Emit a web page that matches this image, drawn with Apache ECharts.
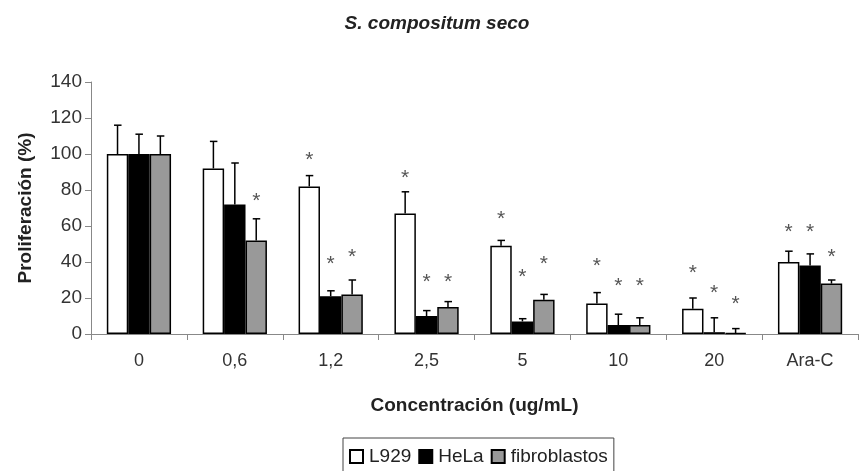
<!DOCTYPE html>
<html>
<head>
<meta charset="utf-8">
<script src="https://cdn.jsdelivr.net/npm/echarts@6/dist/echarts.min.js"></script>
<style>html,body{margin:0;padding:0;background:#fff}#c{width:859px;height:471px}</style>
</head>
<body>
<div id="c"></div>
<script>
var categories = ['0', '0,6', '1,2', '2,5', '5', '10', '20', 'Ara-C'];
var seriesNames = ['L929', 'HeLa', 'fibroblastos'];
var L929 = [100, 92, 82, 67, 49, 17, 14, 40];
var HeLa = [100, 72, 21, 10, 7, 5, 1, 38];
var fibro = [100, 52, 22, 15, 19, 5, 0.5, 28];
var L929Err = [16, 15, 6, 12, 3, 6, 6, 6];
var HeLaErr = [11, 23, 3, 3, 1.5, 6, 8, 6.5];
var fibroErr = [10, 12, 8, 3, 3, 4, 2.5, 2];
var L929Star = [null, null, 100, 90, 67, 41, 37, 60];
var HeLaStar = [null, null, 42, 32, 35, 30, 26, 60];
var fibroStar = [null, 77, 46, 32, 42, 30, 20, 46];
var yTicks = [0, 20, 40, 60, 80, 100, 120, 140];

var values = [L929, HeLa, fibro];
var errs = [L929Err, HeLaErr, fibroErr];
var stars = [L929Star, HeLaStar, fibroStar];
var colors = ['#ffffff', '#000000', '#999999'];
var GAP = 0.33;
var FONT = 'Liberation Sans, Arial, sans-serif';

var errData = [], starData = [];
for (var s = 0; s < 3; s++) {
  for (var i = 0; i < categories.length; i++) {
    errData.push([i, s, values[s][i], errs[s][i]]);
    if (stars[s][i] != null) starData.push([i, s, stars[s][i]]);
  }
}

function barX(api, cat, s, v) {
  var p = api.coord([cat, v]);
  var bw = api.size([1, 0])[0];
  var w = bw * (1 - GAP) / 3;
  return p[0] + (s - 1) * w;
}

var chart = echarts.init(document.getElementById('c'));
var option = {
  animation: false,
  backgroundColor: '#fff',
  title: {
    text: 'S. compositum seco', left: 432, top: 9, textAlign: 'center',
    textStyle: { fontFamily: FONT, fontSize: 19, fontWeight: 'bold', fontStyle: 'italic', color: '#222' }
  },
  legend: {
    data: seriesNames, selectedMode: false, left: 343, top: 438,
    borderColor: '#444', borderWidth: 1, padding: [9, 6, 30, 6],
    icon: 'rect', itemWidth: 13, itemHeight: 13, itemGap: 7,
    textStyle: { fontFamily: FONT, fontSize: 19, color: '#222', padding: [0, 0, 0, 1] }
  },
  grid: { left: 91, right: 1, top: 82, bottom: 137, containLabel: false },
  xAxis: {
    type: 'category', data: categories,
    name: 'Concentración (ug/mL)', nameLocation: 'middle', nameGap: 62,
    nameTextStyle: { fontFamily: FONT, fontSize: 19, fontWeight: 'bold', color: '#222' },
    axisLine: { lineStyle: { color: '#888', width: 1 } },
    axisTick: { show: true, interval: 0, alignWithLabel: false, length: 6, lineStyle: { color: '#888' } },
    axisLabel: { fontFamily: FONT, fontSize: 18, color: '#333', margin: 18, interval: 0 }
  },
  yAxis: {
    type: 'value', min: 0, max: 140, interval: 20,
    name: 'Proliferación (%)', nameLocation: 'middle', nameGap: 56, nameRotate: 90,
    nameTextStyle: { fontFamily: FONT, fontSize: 19, fontWeight: 'bold', color: '#222' },
    axisLine: { show: true, lineStyle: { color: '#888', width: 1 } },
    axisTick: { show: true, length: 6, lineStyle: { color: '#888' } },
    splitLine: { show: false },
    axisLabel: { fontFamily: FONT, fontSize: 19, color: '#333', margin: 9 }
  },
  series: []
};
for (var k = 0; k < 3; k++) {
  option.series.push({
    name: seriesNames[k], type: 'bar', data: values[k],
    barGap: '0%', barCategoryGap: (GAP * 100) + '%',
    itemStyle: { color: colors[k], borderColor: '#000', borderWidth: 1.5 },
    z: 2
  });
}
option.series.push({
  type: 'custom', data: errData, z: 3, silent: true,
  renderItem: function (params, api) {
    var cat = api.value(0), s = api.value(1), v = api.value(2), e = api.value(3);
    var x = barX(api, cat, s, v);
    var y0 = api.coord([cat, v])[1];
    var y1 = api.coord([cat, v + e])[1];
    var st = { stroke: '#000', lineWidth: 1.5 };
    return {
      type: 'group', children: [
        { type: 'line', shape: { x1: x, y1: y0, x2: x, y2: y1 }, style: st },
        { type: 'line', shape: { x1: x - 3.5, y1: y1, x2: x + 4, y2: y1 }, style: st }
      ]
    };
  }
});
option.series.push({
  type: 'custom', data: starData, z: 4, silent: true,
  renderItem: function (params, api) {
    var cat = api.value(0), s = api.value(1), v = api.value(2);
    var x = barX(api, cat, s, v);
    var y = api.coord([cat, v])[1];
    return {
      type: 'text', x: x, y: y + 6,
      style: { text: '*', fill: '#555', font: '21px ' + FONT, textAlign: 'center', textVerticalAlign: 'middle' }
    };
  }
});
chart.setOption(option);
</script>
</body>
</html>
